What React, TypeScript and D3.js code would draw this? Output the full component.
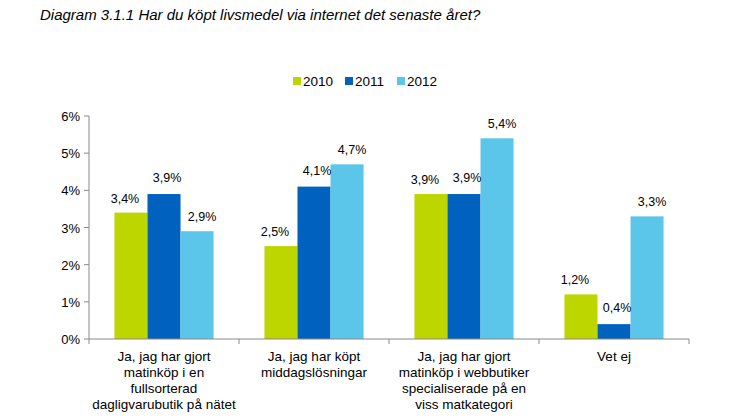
import React from "react";
import * as d3 from "d3";

const categories = [
  ["Ja, jag har gjort", "matinköp i en", "fullsorterad", "dagligvarubutik på nätet"],
  ["Ja, jag har köpt", "middagslösningar"],
  ["Ja, jag har gjort", "matinköp i webbutiker", "specialiserade på en", "viss matkategori"],
  ["Vet ej"],
];
const seriesNames = ["2010", "2011", "2012"];
const values2010 = [3.4, 2.5, 3.9, 1.2];
const values2011 = [3.9, 4.1, 3.9, 0.4];
const values2012 = [2.9, 4.7, 5.4, 3.3];
const yTicks = [0, 1, 2, 3, 4, 5, 6];
const colors = ["#bed600", "#0061bf", "#5bc6ea"];
const title = "Diagram 3.1.1 Har du köpt livsmedel via internet det senaste året?";

export default function App() {
  const W = 733, H = 419;
  const left = 89, right = 689, top = 116, bottom = 339;
  const series = [values2010, values2011, values2012];
  const labelDx = [-6, 3, 5];
  const labelDy = [-10, -12, -10];
  const x = d3.scaleBand<number>().domain(d3.range(categories.length)).range([left, right]).paddingInner(0).paddingOuter(0);
  const inner = d3.scaleBand<number>().domain([0, 1, 2]).range([0, x.bandwidth()]).paddingInner(0).paddingOuter(0.77);
  const y = d3.scaleLinear().domain([0, 6]).range([bottom, top]);
  const font = "'Liberation Sans', Arial, sans-serif";
  const fmt = (v: number) => v.toFixed(1).replace(".", ",") + "%";
  const axisColor = "#898989";
  const boundaries = d3.range(categories.length + 1).map((i) => (i < categories.length ? x(i)! : right));

  return (
    <svg width={W} height={H} style={{ position: "absolute", left: 0, top: 0 }} fontFamily={font}>
      <rect width={W} height={H} fill="#fff" />
      <text x={40} y={20} fontSize={15} fontStyle="italic" fill="#000">{title}</text>
      {/* legend */}
      {seriesNames.map((s, i) => {
        const lx = 293 + i * 52;
        return (
          <g key={s}>
            <rect x={lx} y={77} width={8} height={8} fill={colors[i]} />
            <text x={lx + 10} y={86} fontSize={13.5} fill="#000">{s}</text>
          </g>
        );
      })}
      {/* bars */}
      {series.map((vals, si) =>
        vals.map((v, ci) => {
          const bx = x(ci)! + inner(si)!;
          return (
            <rect key={`${si}-${ci}`} x={bx} y={y(v)} width={inner.bandwidth()} height={bottom - y(v)} fill={colors[si]} />
          );
        })
      )}
      {/* value labels */}
      {series.map((vals, si) =>
        vals.map((v, ci) => {
          const cx = x(ci)! + inner(si)! + inner.bandwidth() / 2 + labelDx[si];
          return (
            <text key={`l${si}-${ci}`} x={cx} y={y(v) + labelDy[si]} fontSize={12.5} textAnchor="middle" fill="#000">{fmt(v)}</text>
          );
        })
      )}
      {/* y axis */}
      <line x1={left} x2={left} y1={top} y2={bottom} stroke={axisColor} strokeWidth={1} />
      {yTicks.map((t) => (
        <g key={t}>
          <line x1={left - 5} x2={left} y1={y(t)} y2={y(t)} stroke={axisColor} />
          <text x={80} y={y(t) + 5} fontSize={13} textAnchor="end" fill="#000">{t + "%"}</text>
        </g>
      ))}
      {/* x axis */}
      <line x1={left} x2={right} y1={bottom} y2={bottom} stroke={axisColor} />
      {boundaries.map((bx, i) => (
        <line key={i} x1={bx} x2={bx} y1={bottom} y2={bottom + 5} stroke={axisColor} />
      ))}
      {categories.map((lines, ci) => (
        <text key={ci} x={x(ci)! + x.bandwidth() / 2} y={361} fontSize={13.5} textAnchor="middle" fill="#000">
          {lines.map((ln, li) => (
            <tspan key={li} x={x(ci)! + x.bandwidth() / 2} dy={li === 0 ? 0 : 16}>{ln}</tspan>
          ))}
        </text>
      ))}
    </svg>
  );
}
